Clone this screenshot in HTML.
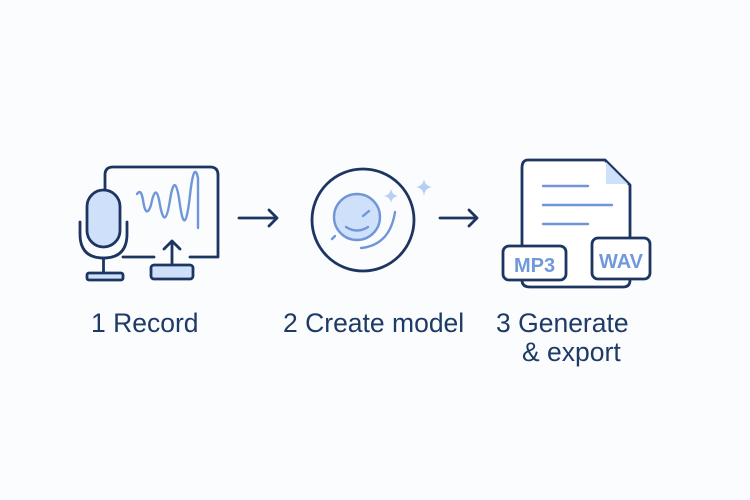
<!DOCTYPE html>
<html><head><meta charset="utf-8"><style>
html,body{margin:0;padding:0;background:#fbfcfd;}
svg{display:block}
text{font-family:"Liberation Sans",sans-serif;fill:#1e3a66;}
</style></head><body>
<svg width="750" height="500" viewBox="0 0 750 500" xmlns="http://www.w3.org/2000/svg">
<rect width="750" height="500" fill="#fbfcfd"/>
<g fill="none" stroke="#1c3561" stroke-width="2.8" stroke-linecap="round" stroke-linejoin="round">
  <path d="M105 190 V175 Q105 167 113 167 H210 Q218 167 218 175 V257 H190"/>
  <path d="M154 257 H123"/>
  <rect x="87" y="190" width="33" height="57" rx="16.5" fill="#cfe0fb"/>
  <path d="M80 222 V234 Q80 258 103.5 258 Q127 258 127 234 V222"/>
  <path d="M103.5 258 V273"/>
  <rect x="87" y="273" width="36" height="7" rx="2" fill="#cfe0fb"/>
  <path d="M172 264 V241 M164 249 L172 241 L180 249"/>
  <rect x="151" y="265" width="42" height="14" rx="3" fill="#cfe0fb"/>
  <path d="M239 218 H277 M269 210 L277 218 L269 226"/>
  <path d="M440 218 H477 M469 210 L477 218 L469 226"/>
  <circle cx="363" cy="220" r="51"/>
  <path d="M528 160 H605 L630 185 V280 Q630 287 623 287 H530 Q522 287 522 280 V168 Q522 160 528 160 Z" fill="#fff"/>
  <rect x="503" y="246" width="63" height="34" rx="6" fill="#fff"/>
  <rect x="592" y="238" width="58" height="41" rx="6" fill="#fff"/>
</g>
<path d="M606 162 L628 184 H606 Z" fill="#cfe0fb"/>
<g fill="none" stroke="#6f96d8" stroke-width="2.4" stroke-linecap="round">
  <path d="M137 194 Q141 188 143 200 Q146 220 151 205 Q156 180 160 205 Q165 232 170 200 Q175 168 180 205 Q185 240 190 195 Q194 160 198 178 V228"/>
  <circle cx="357" cy="217" r="23" fill="#cfe0fb" stroke="#6f96d8"/>
  <path d="M363 216 L369 211"/>
  <path d="M346 227 Q357 234 368 227"/>
  <path d="M332 239 L335 236"/>
  <path d="M361 248 Q390 245 395 212"/>
  <path d="M543 186 H588 M543 205 H612 M543 224 H588"/>
</g>
<path d="M391 189 Q392 195 398 196 Q392 197 391 203 Q390 197 384 196 Q390 195 391 189Z" fill="#b7cff5"/>
<path d="M424 179 Q425 186 432 187 Q425 188 424 196 Q423 188 416 187 Q423 186 424 179Z" fill="#b7cff5"/>
<text x="534.5" y="272" font-size="20" font-weight="bold" text-anchor="middle" style="fill:#7099dc">MP3</text>
<text x="621" y="268" font-size="20" font-weight="bold" text-anchor="middle" style="fill:#7099dc">WAV</text>
<text x="91" y="332" font-size="26.5">1  Record</text>
<text x="283" y="332" font-size="26.5">2 Create model</text>
<text x="496" y="332" font-size="26.5">3  Generate</text>
<text x="522" y="361" font-size="26.5">&amp; export</text>
</svg>
</body></html>
